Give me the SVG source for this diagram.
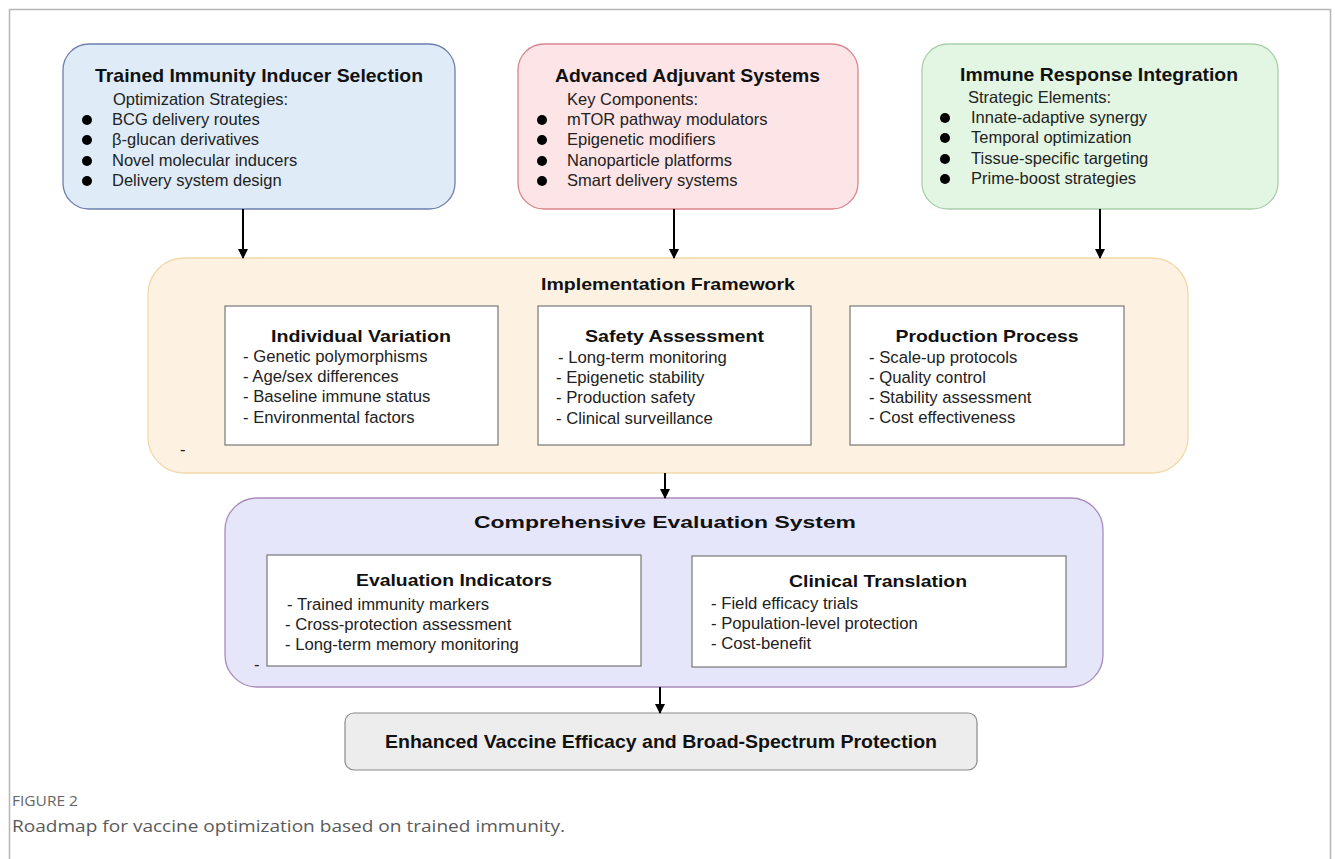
<svg xmlns="http://www.w3.org/2000/svg" width="1335" height="859" viewBox="0 0 1335 859">
  <style>
    .title { font-family: "Liberation Sans", Arial, sans-serif; font-weight: bold; font-size: 19px; fill: #111; text-anchor: middle; }
    .sub { font-family: "Liberation Sans", Arial, sans-serif; font-weight: bold; font-size: 17px; fill: #111; text-anchor: middle; }
    .body { font-family: "Liberation Sans", Arial, sans-serif; font-size: 16.5px; fill: #222; }
    .item { font-family: "Liberation Sans", Arial, sans-serif; font-size: 16.7px; fill: #222; }
    .inner { fill: #ffffff; stroke: #777; stroke-width: 1.2; }
    .conn { stroke: #000; stroke-width: 2; fill: none; marker-end: url(#arrow); }
    .cap1 { font-family: "Open Sans", "Liberation Sans", sans-serif; font-size: 14.5px; fill: #666; }
    .cap2 { font-family: "Open Sans", "Liberation Sans", sans-serif; font-size: 16.5px; fill: #5a5a5a; }
  </style>
  <defs>
    <marker id="arrow" viewBox="0 0 10 10" refX="9" refY="5" markerWidth="5" markerHeight="5" orient="auto" markerUnits="strokeWidth">
      <path d="M0,0 L10,5 L0,10 z" fill="#000"/>
    </marker>
  </defs>

  <rect width="1335" height="859" fill="#ffffff"/>
  <!-- outer frame -->
  <path d="M9.5,859 V9.5 H1330.5 V859" fill="none" stroke="#b5b5b5" stroke-width="1.5"/>

  <!-- top row -->
  <g id="inducer-selection">
    <rect x="63" y="44" width="392" height="165" rx="26" fill="#dfecf8" stroke="#6e7fae" stroke-width="1.3"/>
    <text class="title" x="259" y="82" textLength="328" lengthAdjust="spacingAndGlyphs">Trained Immunity Inducer Selection</text>
    <text class="body" x="113" y="105">Optimization Strategies:</text>
    <circle cx="87" cy="120" r="5" fill="#000"/>
    <circle cx="87" cy="140" r="5" fill="#000"/>
    <circle cx="87" cy="161" r="5" fill="#000"/>
    <circle cx="87" cy="181" r="5" fill="#000"/>
    <text class="body" x="112" y="125">BCG delivery routes</text>
    <text class="body" x="112" y="145">β-glucan derivatives</text>
    <text class="body" x="112" y="166">Novel molecular inducers</text>
    <text class="body" x="112" y="186">Delivery system design</text>
  </g>

  <g id="adjuvant-systems">
    <rect x="518" y="44" width="340" height="165" rx="26" fill="#fde4e6" stroke="#d9848c" stroke-width="1.3"/>
    <text class="title" x="687.5" y="82" textLength="265" lengthAdjust="spacingAndGlyphs">Advanced Adjuvant Systems</text>
    <text class="body" x="567" y="105">Key Components:</text>
    <circle cx="542" cy="120" r="5" fill="#000"/>
    <circle cx="542" cy="140" r="5" fill="#000"/>
    <circle cx="542" cy="161" r="5" fill="#000"/>
    <circle cx="542" cy="181" r="5" fill="#000"/>
    <text class="body" x="567" y="125">mTOR pathway modulators</text>
    <text class="body" x="567" y="145">Epigenetic modifiers</text>
    <text class="body" x="567" y="166">Nanoparticle platforms</text>
    <text class="body" x="567" y="186">Smart delivery systems</text>
  </g>

  <g id="response-integration">
    <rect x="922" y="44" width="356" height="165" rx="26" fill="#e3f6e3" stroke="#a9cfa9" stroke-width="1.3"/>
    <text class="title" x="1099" y="81" textLength="278" lengthAdjust="spacingAndGlyphs">Immune Response Integration</text>
    <text class="body" x="968" y="103">Strategic Elements:</text>
    <circle cx="945" cy="118" r="5" fill="#000"/>
    <circle cx="945" cy="138" r="5" fill="#000"/>
    <circle cx="945" cy="159" r="5" fill="#000"/>
    <circle cx="945" cy="179" r="5" fill="#000"/>
    <text class="body" x="971" y="123">Innate-adaptive synergy</text>
    <text class="body" x="971" y="143">Temporal optimization</text>
    <text class="body" x="971" y="164">Tissue-specific targeting</text>
    <text class="body" x="971" y="184">Prime-boost strategies</text>
  </g>

  <!-- implementation framework -->
  <g id="implementation-framework">
    <rect x="148" y="258" width="1040" height="215" rx="36" fill="#fdf1e2" stroke="#f1d9a9" stroke-width="1.3"/>
    <text class="sub" x="668" y="290" textLength="254" lengthAdjust="spacingAndGlyphs">Implementation Framework</text>
    <text class="item" x="180" y="455">-</text>
  </g>

  <g id="individual-variation">
    <rect class="inner" x="225" y="306" width="273" height="139"/>
    <text class="sub" x="361" y="342" font-size="18" textLength="180" lengthAdjust="spacingAndGlyphs">Individual Variation</text>
    <text class="item" x="243" y="362">- Genetic polymorphisms</text>
    <text class="item" x="243" y="382">- Age/sex differences</text>
    <text class="item" x="243" y="402">- Baseline immune status</text>
    <text class="item" x="243" y="423">- Environmental factors</text>
  </g>

  <g id="safety-assessment">
    <rect class="inner" x="538" y="306" width="273" height="139"/>
    <text class="sub" x="674.5" y="342" font-size="18" textLength="179" lengthAdjust="spacingAndGlyphs">Safety Assessment</text>
    <text class="item" x="558" y="363">- Long-term monitoring</text>
    <text class="item" x="556" y="383">- Epigenetic stability</text>
    <text class="item" x="556" y="403">- Production safety</text>
    <text class="item" x="556" y="424">- Clinical surveillance</text>
  </g>

  <g id="production-process">
    <rect class="inner" x="850" y="306" width="274" height="139"/>
    <text class="sub" x="987" y="342" font-size="18" textLength="183" lengthAdjust="spacingAndGlyphs">Production Process</text>
    <text class="item" x="869" y="363">- Scale-up protocols</text>
    <text class="item" x="869" y="383">- Quality control</text>
    <text class="item" x="869" y="403">- Stability assessment</text>
    <text class="item" x="869" y="423">- Cost effectiveness</text>
  </g>

  <!-- evaluation system -->
  <g id="evaluation-system">
    <rect x="225" y="498" width="878" height="189" rx="32" fill="#e6e6fa" stroke="#a98cb9" stroke-width="1.3"/>
    <text class="sub" x="665" y="528" textLength="382" lengthAdjust="spacingAndGlyphs">Comprehensive Evaluation System</text>
    <text class="item" x="254" y="670">-</text>
  </g>

  <g id="evaluation-indicators">
    <rect class="inner" x="267" y="555" width="374" height="111"/>
    <text class="sub" x="454" y="586" font-size="18" textLength="196" lengthAdjust="spacingAndGlyphs">Evaluation Indicators</text>
    <text class="item" x="287" y="610">- Trained immunity markers</text>
    <text class="item" x="285" y="630">- Cross-protection assessment</text>
    <text class="item" x="285" y="650">- Long-term memory monitoring</text>
  </g>

  <g id="clinical-translation">
    <rect class="inner" x="692" y="556" width="374" height="111"/>
    <text class="sub" x="878" y="587" font-size="18" textLength="178" lengthAdjust="spacingAndGlyphs">Clinical Translation</text>
    <text class="item" x="711" y="609">- Field efficacy trials</text>
    <text class="item" x="711" y="629">- Population-level protection</text>
    <text class="item" x="711" y="649">- Cost-benefit</text>
  </g>

  <!-- outcome -->
  <g id="outcome">
    <rect x="345" y="713" width="632" height="57" rx="9" fill="#ededed" stroke="#8a8a8a" stroke-width="1.2"/>
    <text class="title" x="661" y="748" textLength="552" lengthAdjust="spacingAndGlyphs">Enhanced Vaccine Efficacy and Broad-Spectrum Protection</text>
  </g>

  <!-- connectors -->
  <g id="connectors">
    <line class="conn" x1="243" y1="209" x2="243" y2="258"/>
    <line class="conn" x1="674" y1="209" x2="674" y2="258"/>
    <line class="conn" x1="1100" y1="209" x2="1100" y2="258"/>
    <line class="conn" x1="665" y1="473" x2="665" y2="498"/>
    <line class="conn" x1="660" y1="687" x2="660" y2="713"/>
  </g>

  <!-- caption -->
  <text class="cap1" x="12" y="806" textLength="66" lengthAdjust="spacingAndGlyphs">FIGURE 2</text>
  <text class="cap2" x="12" y="832" textLength="553" lengthAdjust="spacingAndGlyphs">Roadmap for vaccine optimization based on trained immunity.</text>
</svg>
